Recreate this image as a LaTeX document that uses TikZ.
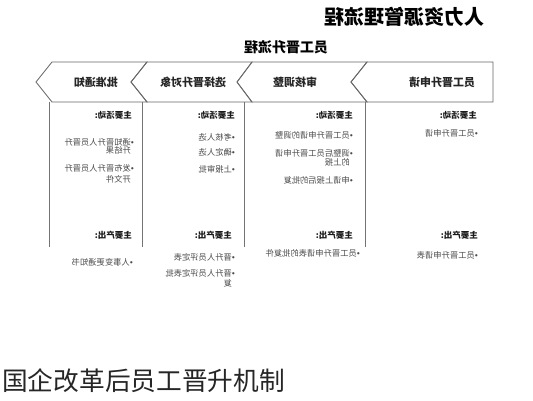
\documentclass[tikz,border=0pt]{standalone}
\usepackage{fontspec}
\usepackage{graphicx}
\setmainfont{Noto Sans CJK SC}
\newfontfamily\cjk{Noto Sans CJK SC}
\newfontfamily\latinf{Liberation Sans}
\newcommand\mir[1]{\reflectbox{#1}}
\newcommand\bul{{\latinf\textbullet}}
\tikzset{
  stage/.style={font=\cjk\bfseries\fontsize{11}{13}\selectfont, text=black!85, inner sep=0pt},
  lab/.style={font=\cjk\bfseries\fontsize{8.5}{10}\selectfont, anchor=east, inner sep=0pt, text=black!90},
  item/.style={font=\cjk\fontsize{8.3}{9.5}\selectfont, text=black!70, anchor=east, inner sep=0pt},
  chev/.style={draw=black!60, line width=0.8pt, line join=miter},
  colline/.style={draw=black!55, line width=0.8pt}
}
\begin{document}
\begin{tikzpicture}[x=1pt,y=-1pt]
\useasboundingbox (0,0) rectangle (533,400);
% titles
\node[font=\cjk\bfseries\fontsize{20}{22}\selectfont, inner sep=0pt] (title) at (404.5,17) {\mir{人力资源管理流程}};
\node[font=\cjk\bfseries\fontsize{14}{16}\selectfont, inner sep=0pt] (sub) at (286,47.5) {\mir{员工晋升流程}};
% chevrons (mirrored: pointing left)
\draw[chev] (493,62) -- (367,62) -- (351,82) -- (367,102) -- (493,102) -- cycle;
\draw[chev] (367,62) -- (252,62) -- (237,82) -- (252,102) -- (367,102) -- (351,82) -- cycle;
\draw[chev] (252,62) -- (147,62) -- (131,82) -- (147,102) -- (252,102) -- (237,82) -- cycle;
\draw[chev] (147,62) -- (52,62) -- (36,82) -- (52,102) -- (147,102) -- (131,82) -- cycle;
\node[stage] (s1) at (442,82) {\mir{员工晋升申请}};
\node[stage] (s2) at (295,82) {\mir{审核调整}};
\node[stage] (s3) at (193,82) {\mir{选择晋升对象}};
\node[stage] (s4) at (96,82) {\mir{批准通知}};
% column lines
\draw[colline] (49,102) -- (49,247);
\draw[colline] (142,102) -- (142,247);
\draw[colline] (244,102) -- (244,247);
\draw[colline] (365,102) -- (365,247);
% column 1
\node[lab] (a1) at (477,115) {\mir{主要活动:}};
\node[item] (b1) at (478,133) {\mir{\bul 员工晋升申请}};
\node[lab] (c1) at (478,235) {\mir{主要产出:}};
\node[item] (d1) at (478,255) {\mir{\bul 员工晋升申请表}};
% column 2
\node[lab] (a2) at (353,115) {\mir{主要活动:}};
\node[item] (b2) at (353,135) {\mir{\bul 员工晋升申请的调整}};
\node[item] (b2b) at (353,153) {\mir{\bul 调整后员工晋升申请}};
\node[item] (b2c) at (350,162) {\mir{的上报}};
\node[item] (b2d) at (353,180) {\mir{\bul 申请上报后的批复}};
\node[lab] (c2) at (353,235) {\mir{主要产出:}};
\node[item] (d2) at (360,253) {\mir{\bul 员工晋升申请表的批复件}};
% column 3
\node[lab] (a3) at (235,115) {\mir{主要活动:}};
\node[item] (b3) at (235,137) {\mir{\bul 考核人选}};
\node[item] (b3b) at (235,152) {\mir{\bul 确定人选}};
\node[item] (b3c) at (235,169) {\mir{\bul 上报审批}};
\node[lab] (c3) at (232,235) {\mir{主要产出:}};
\node[item] (d3) at (235,257) {\mir{\bul 晋升人员评定表}};
\node[item] (d3b) at (235,273) {\mir{\bul 晋升人员评定表批}};
\node[item] (d3c) at (232,283) {\mir{复}};
% column 4
\node[lab] (a4) at (132,115) {\mir{主要活动:}};
\node[item] (b4) at (134,142) {\mir{\bul 通知晋升人员晋升}};
\node[item] (b4b) at (131,150.5) {\mir{升结果}};
\node[item] (b4c) at (134,168) {\mir{\bul 发布晋升人员晋升}};
\node[item] (b4d) at (131,179) {\mir{开文件}};
\node[lab] (c4) at (132,235) {\mir{主要产出:}};
\node[item] (d4) at (133,262) {\mir{\bul 人事变更通知书}};
% caption
\node[font=\cjk\fontsize{25.7}{27}\selectfont, anchor=west, inner sep=0pt, text=black!85] (cap) at (2,381) {国企改革后员工晋升机制};
\end{tikzpicture}
\end{document}
